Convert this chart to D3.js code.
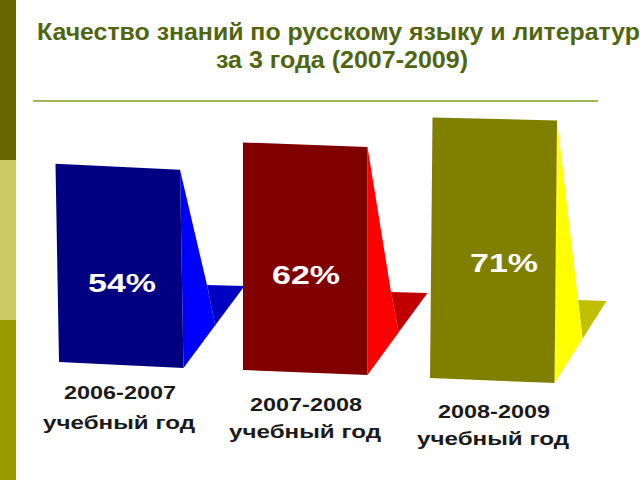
<!DOCTYPE html>
<html><head><meta charset="utf-8">
<script src="https://d3js.org/d3.v7.min.js"></script>
<style>html,body{margin:0;padding:0;background:#fff;overflow:hidden}svg{display:block}</style>
</head><body><div id="c"></div>
<script>
const categories = ["2006-2007", "2007-2008", "2008-2009"];
const values = [54, 62, 71];
const unitLabel = "учебный год";
const titleLines = ["Качество знаний по русскому языку и литератур", "за 3 года (2007-2009)"];
const frontColors = ["#000080", "#800000", "#808000"];
const sideColors = ["#0000ff", "#ff0000", "#ffff00"];
const floorColors = ["#0000c0", "#c00000", "#c0c000"];
const stripeColors = ["#666600", "#cccc66", "#999900"];

const W = 640, H = 480;
const svg = d3.select("#c").append("svg").attr("width", W).attr("height", H);
const font = "'Liberation Sans', Arial, sans-serif";

// Decorative stripe
const stripeY = d3.scaleBand().domain(d3.range(stripeColors.length)).range([0, H]);
svg.selectAll("rect.stripe").data(stripeColors).join("rect").attr("class", "stripe")
  .attr("x", 0).attr("width", 16).attr("y", (d, i) => stripeY(i)).attr("height", stripeY.bandwidth()).attr("fill", d => d);

// Title and rule
svg.append("text").attr("x", 37).attr("y", 40).attr("font-family", font).attr("font-weight", "bold")
  .attr("font-size", 24).attr("fill", "#50650f").attr("textLength", 603).attr("lengthAdjust", "spacingAndGlyphs").text(titleLines[0]);
svg.append("text").attr("x", 342).attr("y", 68).attr("text-anchor", "middle").attr("font-family", font).attr("font-weight", "bold")
  .attr("font-size", 24).attr("fill", "#50650f").attr("textLength", 252).attr("lengthAdjust", "spacingAndGlyphs").text(titleLines[1]);
svg.append("line").attr("x1", 33).attr("x2", 598).attr("y1", 101).attr("y2", 101).attr("stroke", "#86a024").attr("stroke-width", 1.5);

// Scales of the hand-tilted 3D picture
const xBase = d3.scaleOrdinal().domain(categories).range([59, 243, 430]);
const yBase = d3.scalePoint().domain(categories).range([362, 378]);
const heightOf = d3.scaleLinear().domain([0, 100]).range([0, 367]);
const lean = d3.scaleOrdinal().domain(categories).range([-3.5, 0, 2.5]);
const topSlope = d3.scalePoint().domain(categories).range([6, 3]);
const bottomSlope = d3.scaleOrdinal().domain(categories).range([6, 5, 5]);
const floorReach = d3.scaleOrdinal().domain(categories).range([61, 60, 52]);
const innerReach = d3.scaleOrdinal().domain(categories).range([0.52, 0.52, 0.54]);
const frontWidth = 124.5, backDx = 23.5, backDy = 83, floorDy = 82;

const line = d3.line().curve(d3.curveLinearClosed);
const bars = categories.map((c, i) => {
  const v = values[i], x = xBase(c), y = yBase(c), h = heightOf(v);
  const bl = [x, y], br = [x + frontWidth, y + bottomSlope(c)];
  const tl = [x + lean(c), y - h], tr = [tl[0] + frontWidth, tl[1] + topSlope(c)];
  const back = [br[0] + backDx, br[1] - backDy];
  const tip = [br[0] + floorReach(c), br[1] - floorDy];
  const t = innerReach(c);
  const inner = [br[0] + (tip[0] - br[0]) * t, br[1] + (tip[1] - br[1]) * t];
  return {c, v, i, bl, br, tl, tr, back, tip, inner};
});

const g = svg.selectAll("g.bar").data(bars).join("g").attr("class", "bar");
g.append("path").attr("d", d => line([d.back, d.tip, d.inner])).attr("fill", d => floorColors[d.i]);
g.append("path").attr("d", d => line([d.tr, d.back, d.inner, d.br])).attr("fill", d => sideColors[d.i]);
g.append("path").attr("d", d => line([d.tl, d.tr, d.br, d.bl])).attr("fill", d => frontColors[d.i]);

// Value labels
const labelX = [88, 272, 470], labelY = [292, 284, 272];
g.append("text").attr("x", d => labelX[d.i]).attr("y", d => labelY[d.i])
  .attr("font-family", font).attr("font-weight", "bold").attr("font-size", 26).attr("fill", "#fff")
  .attr("textLength", 68).attr("lengthAdjust", "spacingAndGlyphs").text(d => d.v + "%");

// Category labels
const catX = [119, 305, 493], catY1 = [399, 411, 418], catY2 = [429, 438, 445];
const lab = svg.selectAll("g.lab").data(bars).join("g").attr("class", "lab");
lab.append("text").attr("x", d => catX[d.i] + 1).attr("y", d => catY1[d.i]).attr("text-anchor", "middle")
  .attr("font-family", font).attr("font-weight", "bold").attr("font-size", 18).attr("fill", "#1a1a1a")
  .attr("textLength", 112).attr("lengthAdjust", "spacingAndGlyphs").text(d => d.c);
lab.append("text").attr("x", d => catX[d.i]).attr("y", d => catY2[d.i]).attr("text-anchor", "middle")
  .attr("font-family", font).attr("font-weight", "bold").attr("font-size", 18).attr("fill", "#1a1a1a")
  .attr("textLength", 152).attr("lengthAdjust", "spacingAndGlyphs").text(unitLabel);
</script></body></html>
